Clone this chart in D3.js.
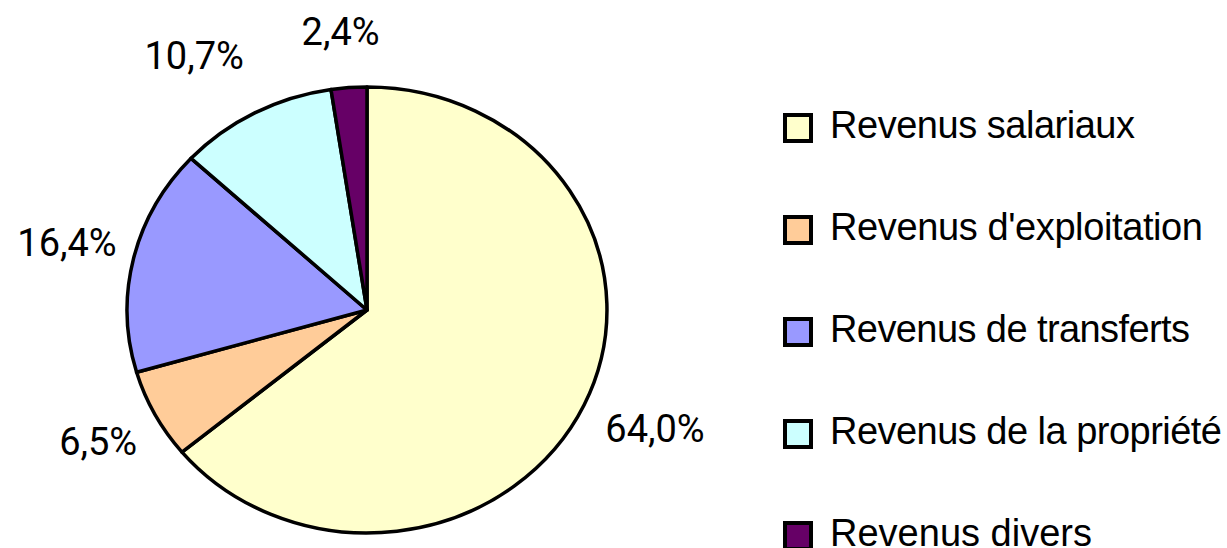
<!DOCTYPE html>
<html>
<head>
<meta charset="utf-8">
<script src="https://cdn.jsdelivr.net/npm/d3@7"></script>
<style>
    body { margin: 0; background: #fff; }
    svg { display: block; }
</style>
</head>
<body>
<div id="chart"></div>
<script>
// categories, values (percent) and colours
var categories = ["Revenus salariaux", "Revenus d'exploitation", "Revenus de transferts", "Revenus de la propriété", "Revenus divers"];
var shares = [64.0, 6.5, 16.4, 10.7, 2.4];
var colors = ["#FFFFCC", "#FFCC99", "#9999FF", "#CCFFFF", "#660066"];
var valueLabels = ["64,0%", "6,5%", "16,4%", "10,7%", "2,4%"];

var svgWidth = 1227;
var svgHeight = 548;

// pie is drawn stretched (ellipse), as in the original
var pieBox = { cx: 367, cy: 310, rx: 240, ry: 223 };

var svg = d3.select("#chart")
    .append("svg")
    .attr("width", svgWidth)
    .attr("height", svgHeight);

var pie = d3.pie()
    .sort(null)
    .value(d => d);

var arcs = pie(shares);

var arc = d3.arc()
    .innerRadius(0)
    .outerRadius(1);

var pieGroup = svg.append("g")
    .attr("transform", `translate(${pieBox.cx}, ${pieBox.cy}) scale(${pieBox.rx}, ${pieBox.ry})`);

pieGroup.selectAll("path")
    .data(arcs)
    .enter()
    .append("path")
    .attr("d", arc)
    .attr("fill", (d, i) => colors[i])
    .attr("stroke", "#000")
    .attr("stroke-width", 3.5)
    .attr("stroke-linejoin", "round")
    .attr("vector-effect", "non-scaling-stroke");

// label placement, in pie radii relative to the centre (labels were placed by hand in the original)
var labelSpots = [[1.20, 0.59], [-1.12, 0.65], [-1.25, -0.24], [-0.72, -1.08], [-0.11, -1.19]];

svg.selectAll(".pct")
    .data(arcs)
    .enter()
    .append("text")
    .attr("class", "pct")
    .attr("x", (d, i) => pieBox.cx + labelSpots[i][0] * pieBox.rx)
    .attr("y", (d, i) => pieBox.cy + labelSpots[i][1] * pieBox.ry)
    .attr("text-anchor", "middle")
    .attr("font-family", "Roboto, 'Open Sans', sans-serif")
    .attr("font-size", 38)
    .attr("fill", "#000")
    .text((d, i) => valueLabels[i]);

// legend
var legendY = d3.scalePoint()
    .domain(categories)
    .range([128, 536]);

var legend = svg.append("g");

var rows = legend.selectAll(".row")
    .data(categories)
    .enter()
    .append("g")
    .attr("class", "row")
    .attr("transform", d => `translate(785, ${legendY(d)})`);

rows.append("rect")
    .attr("x", 0)
    .attr("y", -13)
    .attr("width", 26)
    .attr("height", 26)
    .attr("fill", (d, i) => colors[i])
    .attr("stroke", "#000")
    .attr("stroke-width", 4);

var textWidths = [305, 373, 360, 392, 262];

rows.append("text")
    .attr("x", 45)
    .attr("y", 10)
    .attr("font-family", "'Liberation Sans Narrow', 'Liberation Sans', Arial, sans-serif")
    .attr("font-size", 38)
    .attr("fill", "#000")
    .attr("textLength", (d, i) => textWidths[i])
    .attr("lengthAdjust", "spacing")
    .text(d => d);
</script>
</body>
</html>
